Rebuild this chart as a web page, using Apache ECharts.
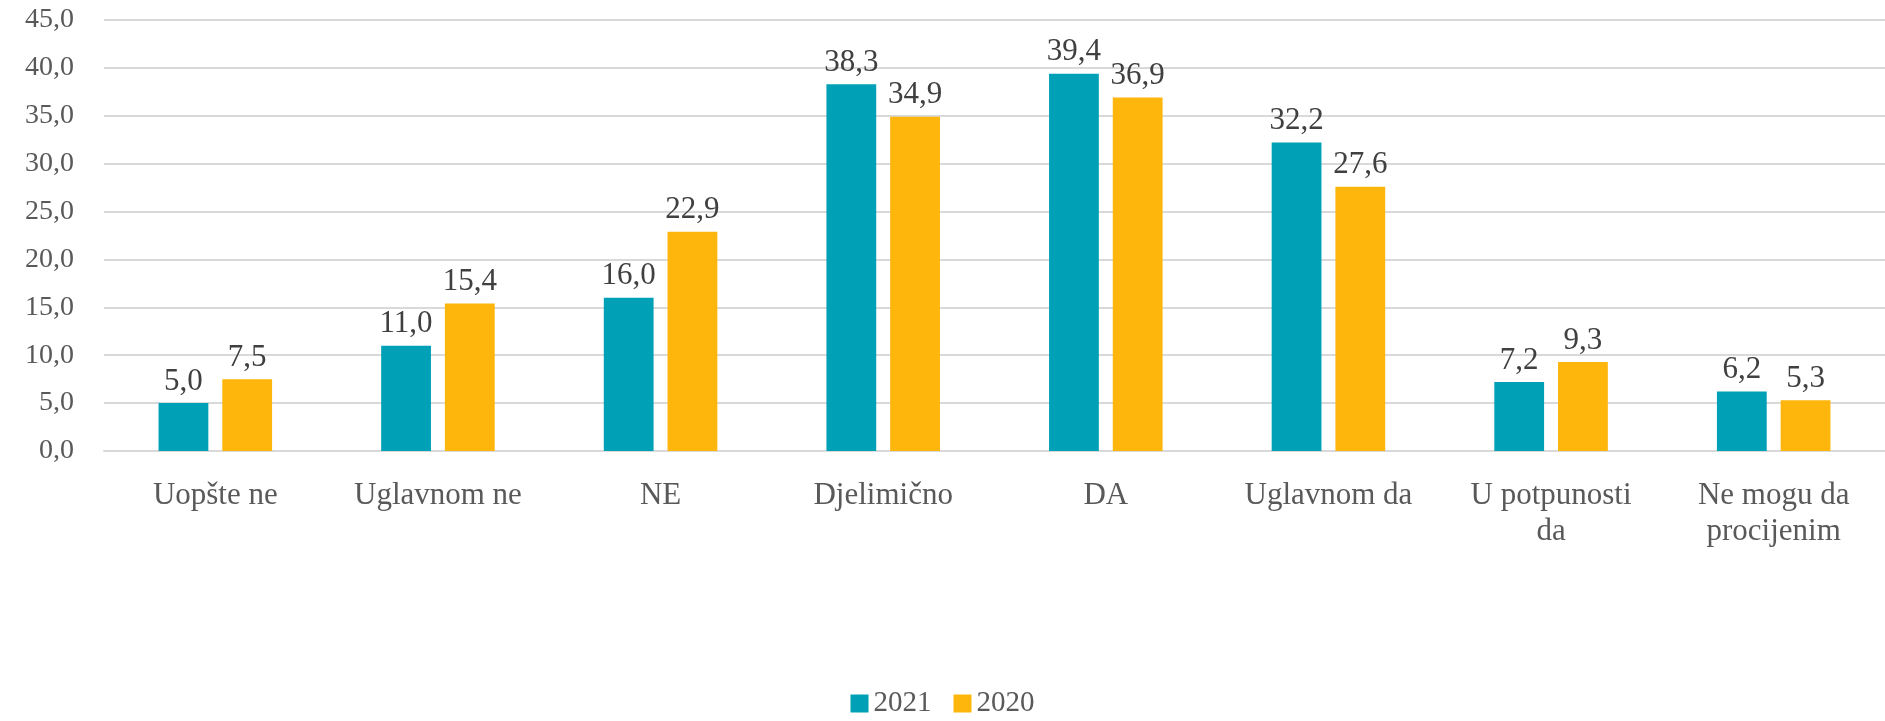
<!DOCTYPE html>
<html lang="bs">
<head>
<meta charset="UTF-8">
<title>2021 / 2020</title>
<style>
    html, body { margin: 0; padding: 0; background: #fff; }
    #chart { width: 1885px; height: 721px; }
</style>
</head>
<body>
<div id="chart"></div>
<script src="https://cdn.jsdelivr.net/npm/echarts@6/dist/echarts.min.js"></script>
<script>
// podaci sa slike
var categories = ['Uopšte ne', 'Uglavnom ne', 'NE', 'Djelimično', 'DA', 'Uglavnom da', 'U potpunosti\nda', 'Ne mogu da\nprocijenim'];
var values2021 = [5.0, 11.0, 16.0, 38.3, 39.4, 32.2, 7.2, 6.2];
var values2020 = [7.5, 15.4, 22.9, 34.9, 36.9, 27.6, 9.3, 5.3];
var seriesNames = ['2021', '2020'];

var fontFamily = '"Liberation Serif", "DejaVu Serif", serif';

function fmt(v) {
    return Number(v).toFixed(1).replace('.', ',');
}

var chart = echarts.init(document.getElementById('chart'), null, { renderer: 'canvas' });
var option = {
    animation: false,
    textStyle: { fontFamily: fontFamily },
    grid: { left: 104, right: 0, top: 20, bottom: 270 },
    legend: {
        data: seriesNames,
        bottom: -2,
        left: 'center',
        itemWidth: 18,
        itemHeight: 18,
        itemGap: 22,
        icon: 'rect',
        textStyle: { fontFamily: fontFamily, fontSize: 29, color: '#595959' }
    },
    xAxis: {
        type: 'category',
        data: categories,
        axisLine: { show: true, lineStyle: { color: '#D9D9D9', width: 2 } },
        axisTick: { show: false },
        axisLabel: {
            interval: 0,
            margin: 27,
            fontSize: 31,
            lineHeight: 36,
            color: '#595959',
            fontFamily: fontFamily
        }
    },
    yAxis: {
        type: 'value',
        min: 0,
        max: 45,
        interval: 5,
        axisLine: { show: false },
        axisTick: { show: false },
        splitLine: { lineStyle: { color: '#D9D9D9', width: 2 } },
        axisLabel: {
            margin: 30,
            fontSize: 28,
            color: '#595959',
            fontFamily: fontFamily,
            formatter: fmt
        }
    },
    series: [
        {
            name: seriesNames[0],
            type: 'bar',
            data: values2021,
            barGap: '28%',
            barCategoryGap: '49%',
            itemStyle: { color: '#00A1B7' },
            label: {
                show: true,
                position: 'top',
                distance: 6,
                fontSize: 31,
                color: '#404040',
                fontFamily: fontFamily,
                formatter: function (p) { return fmt(p.value); }
            }
        },
        {
            name: seriesNames[1],
            type: 'bar',
            data: values2020,
            itemStyle: { color: '#FFB60C' },
            label: {
                show: true,
                position: 'top',
                distance: 6,
                fontSize: 31,
                color: '#404040',
                fontFamily: fontFamily,
                formatter: function (p) { return fmt(p.value); }
            }
        }
    ]
};
chart.setOption(option);
</script>
</body>
</html>
